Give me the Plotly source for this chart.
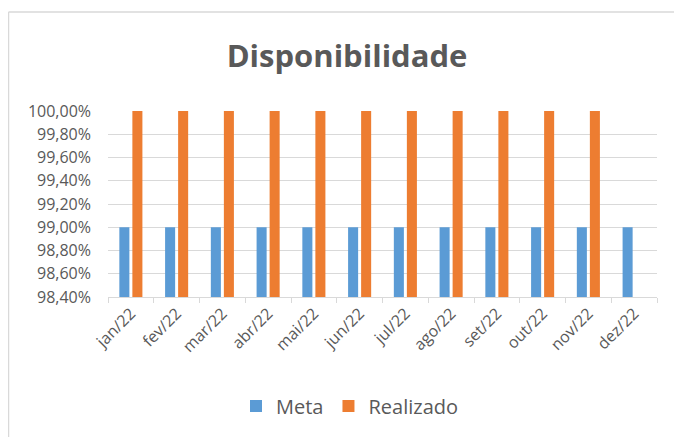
import plotly.graph_objects as go

categories = ["jan/22", "fev/22", "mar/22", "abr/22", "mai/22", "jun/22",
              "jul/22", "ago/22", "set/22", "out/22", "nov/22", "dez/22"]
meta = [0.99] * 12
realizado = [1.0, 1.0, 1.0, 1.0, 1.0, 1.0, 1.0, 1.0, 1.0, 1.0, 1.0, None]
y_ticks = [0.984, 0.986, 0.988, 0.990, 0.992, 0.994, 0.996, 0.998, 1.000]

# page body has an 8px margin; work in reference pixel coords and shift
OFF = 8
W, H = 682 - OFF, 437 - OFF
PL, PR, PT, PB = 108, 657, 111, 297  # plot area in reference pixels
L, R, T, B = PL - OFF, W - (PR - OFF), PT - OFF, H - (PB - OFF)
pw, ph = PR - PL, PB - PT

def px_x(x):
    return (x - PL) / pw

def px_y(y):
    return (PB - y) / ph

text_color = "#595959"
grid_color = "#D9D9D9"
font_family = "Open Sans, Liberation Sans, sans-serif"

fig = go.Figure()
fig.add_trace(go.Bar(name="Meta", x=categories, y=meta,
                     marker=dict(color="#5B9BD5", line=dict(width=0))))
fig.add_trace(go.Bar(name="Realizado", x=categories, y=realizado,
                     marker=dict(color="#ED7D31", line=dict(width=0))))

fig.update_layout(
    width=W, height=H,
    margin=dict(l=L, r=R, t=T, b=B, pad=0),
    paper_bgcolor="white", plot_bgcolor="white",
    separators=",.",
    barmode="group", bargap=0.43, bargroupgap=0.23,
    font=dict(family=font_family, color=text_color, size=13),
    title=dict(text="<b>Disponibilidade</b>", x=(347 - OFF) / W, xref="container",
               xanchor="center", y=1 - (56 - OFF) / H, yref="container", yanchor="middle",
               font=dict(size=31, color=text_color, family=font_family)),
    showlegend=True,
    legend=dict(orientation="h", x=px_x(350), xanchor="center", y=px_y(406),
                yanchor="middle", font=dict(size=20, color=text_color),
                itemsizing="constant", traceorder="normal", itemwidth=30),
    xaxis=dict(showline=True, linecolor=grid_color, linewidth=1,
               ticks="outside", tickson="boundaries", ticklen=5,
               tickcolor=grid_color, tickangle=-45, showgrid=False,
               tickfont=dict(size=16, color=text_color)),
    yaxis=dict(range=[0.984, 1.0], tickvals=y_ticks, tickformat=".2%",
               showgrid=True, gridcolor=grid_color, gridwidth=1,
               showline=False, zeroline=False, ticks="", ticklabelstandoff=16,
               tickfont=dict(size=16, color=text_color)),
    shapes=[
        dict(type="line", xref="paper", yref="paper",
             x0=px_x(8.5), x1=px_x(8.5), y0=px_y(440), y1=px_y(12),
             line=dict(color=grid_color, width=1.5)),
        dict(type="line", xref="paper", yref="paper",
             x0=px_x(8.5), x1=px_x(681), y0=px_y(12), y1=px_y(12),
             line=dict(color=grid_color, width=1.5)),
    ],
)

fig.write_html("out.html")
